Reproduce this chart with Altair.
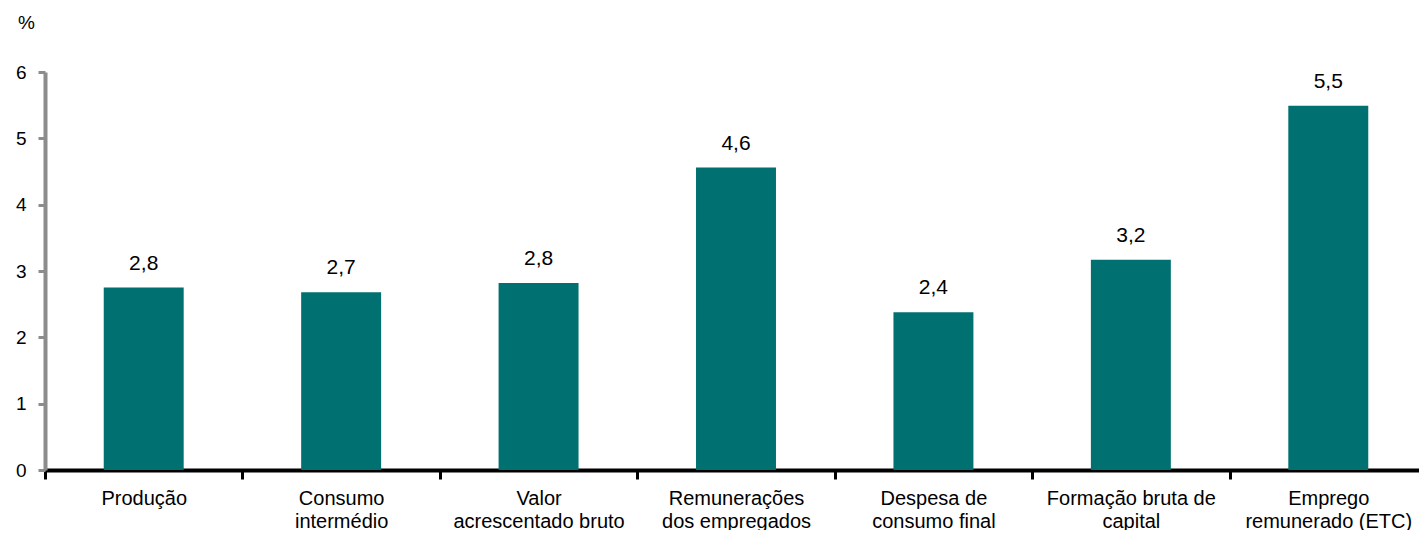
import altair as alt
import pandas as pd

categories = [
    "Produção",
    "Consumo|intermédio",
    "Valor|acrescentado bruto",
    "Remunerações|dos empregados",
    "Despesa de|consumo final",
    "Formação bruta de|capital",
    "Emprego|remunerado (ETC)",
]
values = [2.75, 2.68, 2.82, 4.56, 2.38, 3.17, 5.49]
value_labels = ["2,8", "2,7", "2,8", "4,6", "2,4", "3,2", "5,5"]

df = pd.DataFrame({"cat": categories, "val": values, "lab": value_labels})

FONT = "Liberation Sans"

x_enc = alt.X(
    "cat:N",
    sort=categories,
    scale=alt.Scale(paddingInner=0, paddingOuter=0, range=[0, 1382]),
    axis=alt.Axis(
        title=None,
        labelAngle=0,
        labelExpr="split(datum.label, '|')",
        labelFont=FONT,
        labelFontSize=20,
        labelColor="#000000",
        labelLineHeight=23,
        labelBaseline="top",
        labelPadding=9,
        labelLimit=300,
        tickBand="extent",
        tickColor="#000000",
        tickWidth=3,
        tickSize=9,
        domainColor="#000000",
        domainWidth=4,
        grid=False,
    ),
)

y_enc = alt.Y(
    "val:Q",
    scale=alt.Scale(domain=[0, 6], nice=False),
    axis=alt.Axis(
        title="%",
        titleAngle=0,
        titleAlign="center",
        titleBaseline="middle",
        titleX=-19,
        titleY=-50,
        titleFont=FONT,
        titleFontSize=19,
        titleFontWeight="normal",
        titleColor="#000000",
        values=[0, 1, 2, 3, 4, 5, 6],
        format="d",
        labelFont=FONT,
        labelFontSize=19,
        labelColor="#000000",
        labelPadding=12,
        tickColor="#8c8c8c",
        tickWidth=3,
        tickSize=7,
        domainColor="#8c8c8c",
        domainWidth=4,
        grid=False,
    ),
)

base = alt.Chart(df).encode(x=x_enc, y=y_enc)

bars = base.mark_bar(color="#007070", width=alt.RelativeBandSize(0.405))

texts = base.mark_text(
    font=FONT, fontSize=21, color="#000000", baseline="alphabetic", dy=-18
).encode(text="lab:N")

chart = (
    alt.layer(bars, texts)
    .properties(
        width=1374,
        height=398,
        background="#ffffff",
        autosize=alt.AutoSizeParams(type="none"),
        padding={"left": 37, "top": 64, "right": 0, "bottom": 60},
    )
    .configure_view(stroke="transparent", strokeWidth=0)
    .configure_axis(grid=False)
)

chart.save("out.html", embed_options={"renderer": "svg", "actions": False})
